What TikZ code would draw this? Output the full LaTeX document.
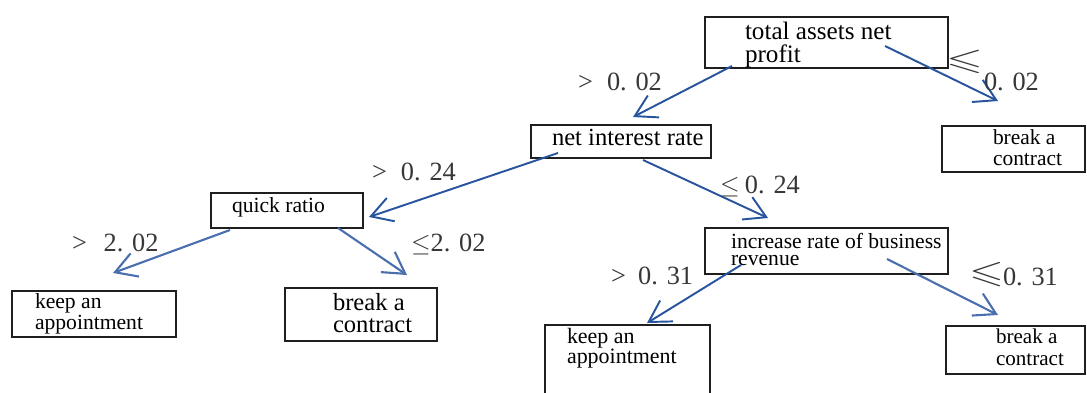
\documentclass[tikz,border=0pt]{standalone}
\usepackage{fontspec}
\setmainfont{Liberation Serif}
\usepackage{amssymb}
\usetikzlibrary{arrows.meta}
\definecolor{arrblue}{RGB}{40,84,158}
\definecolor{arrsoft}{RGB}{74,110,174}
\definecolor{lblgray}{RGB}{55,55,55}
\begin{document}
\begin{tikzpicture}[x=0.02cm,y=-0.02cm,
  box/.style={draw=black!88, line width=1.1pt, inner sep=0pt, outer sep=0pt},
  txt/.style={anchor=base west, inner sep=0pt, outer sep=0pt, text=black, font=\fontsize{#1}{#1}\selectfont},
  lbl/.style={anchor=base west, inner sep=0pt, outer sep=0pt, text=lblgray, font=\fontsize{15}{15}\selectfont},
  arr/.style={draw=arrblue, line width=1.1pt, -{Straight Barb[length=12pt,width=14pt,line width=1.1pt]}},
  arrs/.style={draw=arrsoft, line width=1.2pt, -{Straight Barb[length=12pt,width=14pt,line width=1.2pt]}}
]
\useasboundingbox (0,0) rectangle (1087,392);
\clip (0,0) rectangle (1087,392);

% boxes
\node[box, minimum width=4.86cm, minimum height=1.02cm] (root)  at (826.5,42.5) {};
\node[box, minimum width=3.60cm, minimum height=0.66cm] (net)   at (621,141.5) {};
\node[box, minimum width=2.86cm, minimum height=0.92cm] (brkTR) at (1013.5,149) {};
\node[box, minimum width=3.04cm, minimum height=0.70cm] (quick) at (287,210.5) {};
\node[box, minimum width=3.28cm, minimum height=0.92cm] (keepL) at (94,314) {};
\node[box, minimum width=3.04cm, minimum height=1.06cm] (brkM)  at (361,314.5) {};
\node[box, minimum width=4.86cm, minimum height=0.92cm] (incr)  at (826.5,251) {};
\node[box, minimum width=3.30cm, minimum height=1.70cm] (keepB) at (627.5,367.5) {};
\node[box, minimum width=2.78cm, minimum height=0.96cm] (brkBR) at (1015.5,350) {};

% box texts
\node[txt=14.3] (rootA) at (745,39) {total assets net};
\node[txt=14.3] (rootB) at (745,62) {profit};
\node[txt=14] (netA) at (552,145) {net interest rate};
\node[txt=12.2] (brkTRA) at (993,144) {break a};
\node[txt=12.2] (brkTRB) at (993,165) {contract};
\node[txt=12.3] (quickA) at (232,212) {quick ratio};
\node[txt=12.3] (keepLA) at (35,308) {keep an};
\node[txt=12.3] (keepLB) at (35,329) {appointment};
\node[txt=14] (brkMA) at (333,310) {break a};
\node[txt=14] (brkMB) at (333,332) {contract};
\node[txt=12.3] (incrA) at (731,248) {increase rate of business};
\node[txt=12.3] (incrB) at (731,265) {revenue};
\node[txt=12.5] (keepBA) at (567,343) {keep an};
\node[txt=12.5] (keepBB) at (567,363) {appointment};
\node[txt=12] (brkBRA) at (996,343) {break a};
\node[txt=12] (brkBRB) at (996,365) {contract};

% connectors
\draw[arr]  ([shift={(27,-2)}]root.south west) -- ([shift={(102,-8)}]net.north west);
\draw[arr]  ([shift={(180,29)}]root.north west) -- ([shift={(56,-25)}]brkTR.north west);
\draw[arr]  ([shift={(27,-5)}]net.south west) -- ([shift={(6,24)}]quick.north east);
\draw[arr]  ([shift={(112,2)}]net.south west) -- ([shift={(63,-10)}]incr.north west);
\draw[arrs] ([shift={(19,2)}]quick.south west) -- ([shift={(101,-18)}]keepL.north west);
\draw[arrs] ([shift={(127,0)}]quick.south west) -- ([shift={(122,-13)}]brkM.north west);
\draw[arr]  ([shift={(36,-9)}]incr.south west) -- ([shift={(102,-2)}]keepB.north west);
\draw[arrs] ([shift={(182,-15)}]incr.south west) -- ([shift={(52,-11)}]brkBR.north west);

% labels
\node[lbl] (L1) at (578,90) {\makebox[16.5pt][l]{>}0. 02};
\node[lbl, anchor=center] (L2s) at (964.5,61.5) {\scalebox{1.8}[1.15]{$\leqslant$}};
\node[lbl] (L2n) at (984,90) {0. 02};
\node[lbl] (L3) at (372,180) {\makebox[16.5pt][l]{>}0. 24};
\node[lbl] (L4) at (720,193) {$\leq$\hspace{3pt}0. 24};
\node[lbl] (L5) at (72,251) {\makebox[18pt][l]{>}2. 02};
\node[lbl] (L6) at (411,251) {$\leq$2. 02};
\node[lbl] (L7) at (611,284) {\makebox[15.5pt][l]{>}0. 31};
\node[lbl, anchor=center] (L8s) at (986.5,275) {\scalebox{1.7}[1.2]{$\leqslant$}};
\node[lbl] (L8n) at (1003,285) {0. 31};
\end{tikzpicture}
\end{document}
